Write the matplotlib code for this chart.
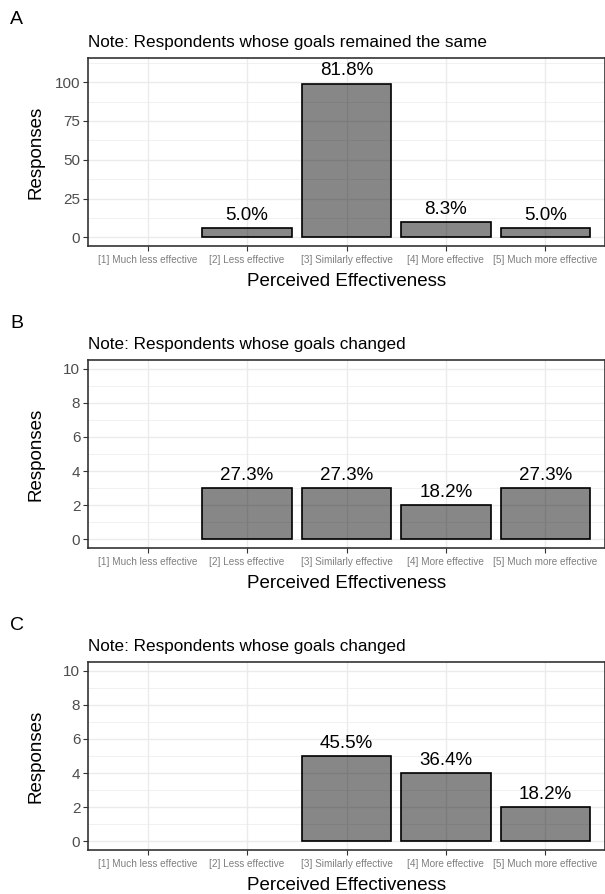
import matplotlib
matplotlib.use("Agg")
import matplotlib.pyplot as plt
from matplotlib.ticker import MultipleLocator

plt.rcParams['font.family'] = ['Liberation Sans', 'DejaVu Sans']

categories = ["[1] Much less effective", "[2] Less effective", "[3] Similarly effective",
              "[4] More effective", "[5] Much more effective"]

counts_a = [0, 6, 99, 10, 6]
pct_a = ["", "5.0%", "81.8%", "8.3%", "5.0%"]
counts_b = [0, 3, 3, 2, 3]
pct_b = ["", "27.3%", "27.3%", "18.2%", "27.3%"]
counts_c = [0, 0, 5, 4, 2]
pct_c = ["", "", "45.5%", "36.4%", "18.2%"]

panels = [
    ("A", "Note: Respondents whose goals remained the same", counts_a, pct_a,
     (-5.5, 115.5), 25, 12.5),
    ("B", "Note: Respondents whose goals changed", counts_b, pct_b,
     (-0.5, 10.5), 2, 1),
    ("C", "Note: Respondents whose goals changed", counts_c, pct_c,
     (-0.5, 10.5), 2, 1),
]

W, H = 605, 894
fig = plt.figure(figsize=(W / 100, H / 100), dpi=100)

# axes boxes in pixel coords: (left, top, right, bottom)
boxes = [(88, 58, 605, 246), (88, 360, 605, 548), (88, 662, 605, 850)]
tag_y = [20, 323, 625]

x = list(range(len(categories)))
for (tag, title, counts, pcts, ylim, major, minor), (l, t, r, b), ty in zip(panels, boxes, tag_y):
    ax = fig.add_axes([l / W, 1 - b / H, (r - l) / W, (b - t) / H])
    ax.set_xlim(-0.6, 4.6)
    ax.set_ylim(*ylim)
    ax.yaxis.set_major_locator(MultipleLocator(major))
    ax.yaxis.set_minor_locator(MultipleLocator(minor))
    ax.set_axisbelow(True)
    ax.grid(True, which='major', color='#EBEBEB', linewidth=1.0)
    ax.grid(True, which='minor', axis='y', color='#EBEBEB', linewidth=0.5)
    ax.tick_params(axis='y', which='minor', length=0)
    # categories with no responses are absent from the data, so no bar is drawn
    xs = [xi for xi, c in zip(x, counts) if c > 0]
    hs = [c for c in counts if c > 0]
    ax.bar(xs, hs, width=0.9, color=(0, 0, 0, 0.47), edgecolor='black', linewidth=1.2, zorder=3)
    for xi, c, p in zip(x, counts, pcts):
        if p:
            ax.annotate(p, (xi, c), xytext=(0, 3), textcoords='offset points',
                        ha='center', va='bottom', fontsize=13.5, color='black')
    ax.set_xticks(x)
    ax.set_xticklabels(categories, fontsize=7.2, color='#7F7F7F')
    ax.tick_params(axis='y', which='major', labelsize=11, labelcolor='#4D4D4D',
                   color='#333333', length=3.5, width=0.8, pad=2)
    ax.tick_params(axis='x', which='major', color='#333333', length=3.5, width=0.8, pad=3)
    for s in ax.spines.values():
        s.set_color('#333333')
        s.set_linewidth(1.2)
    ticks = [v for v in ax.get_yticks() if 0 <= v <= ylim[1]]
    ax.set_yticks(ticks)
    ax.set_yticklabels([f"{int(v)}" for v in ticks])
    ax.set_xlabel("Perceived Effectiveness", fontsize=13.5, labelpad=6)
    ax.set_ylabel("Responses", fontsize=13.5)
    ax.yaxis.set_label_coords((45 - l) / (r - l), 0.5)
    ax.set_title(title, loc='left', fontsize=12.3, pad=8)
    fig.text(10 / W, 1 - ty / H, tag, fontsize=14, ha='left', va='center')

fig.savefig("out.png", dpi=100)
